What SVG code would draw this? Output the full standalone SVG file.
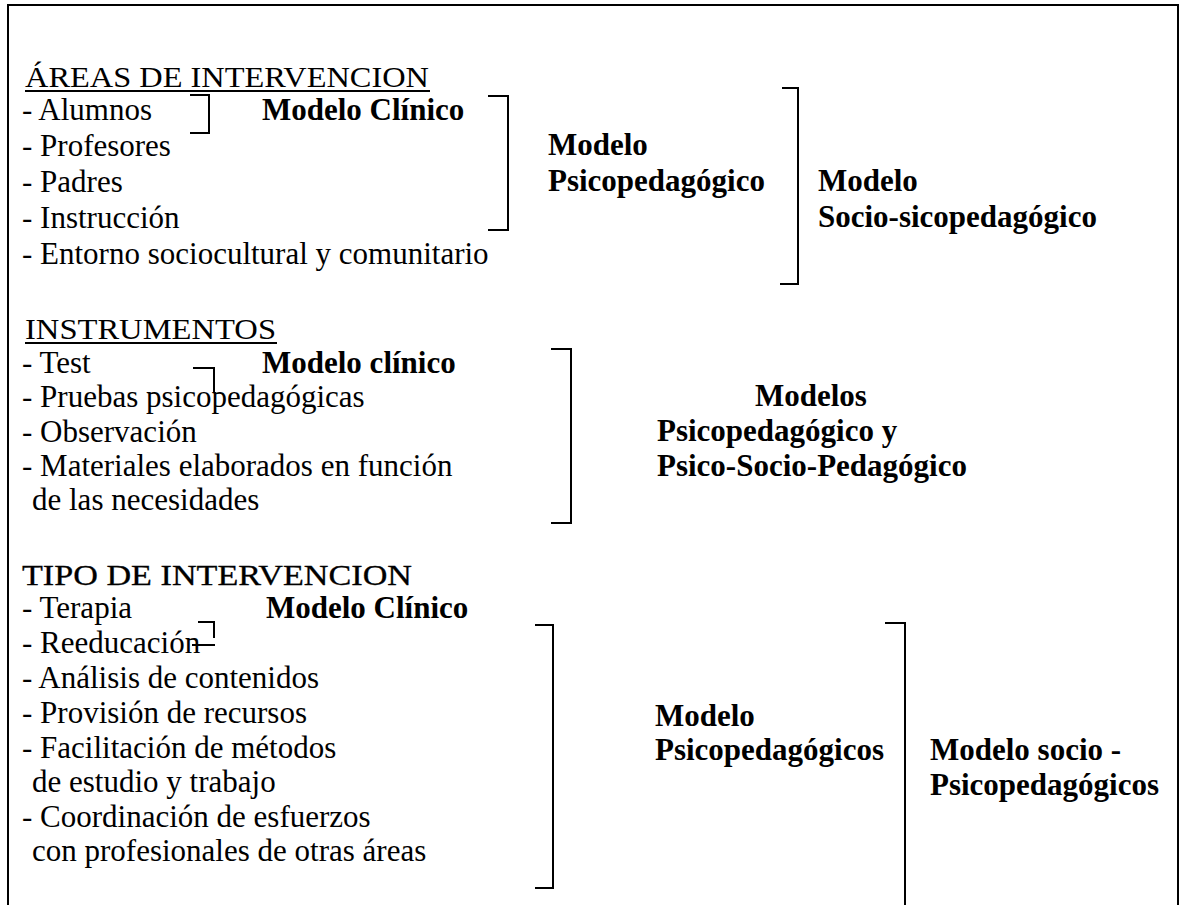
<svg xmlns="http://www.w3.org/2000/svg" width="1190" height="905" viewBox="0 0 1190 905">
<style>
text{font-family:"Liberation Serif","Times New Roman",serif;font-size:31px;fill:#000}
.b{font-weight:bold}
.h{font-size:30px}
.hb{stroke:#000;stroke-width:0.3}
.br{fill:none;stroke:#000;stroke-width:2}
.fr{fill:none;stroke:#000;stroke-width:2}
</style>
<rect width="1190" height="905" fill="#fff"/>
<g id="frame">
<path class="fr" d="M8,905 V5 H1178 V905"/>
</g>
<g id="areas-list">
<text class="h" x="25" y="87" textLength="404" lengthAdjust="spacingAndGlyphs">ÁREAS DE INTERVENCION</text>
<line x1="25" y1="91" x2="430" y2="91" stroke="#000" stroke-width="2"/>
<text x="22" y="120">- Alumnos</text>
<text x="22" y="156">- Profesores</text>
<text x="22" y="192">- Padres</text>
<text x="22" y="228">- Instrucción</text>
<text x="22" y="264">- Entorno sociocultural y comunitario</text>
</g>
<g id="areas-clinico"><text class="b" x="262" y="120">Modelo Clínico</text></g>
<g id="areas-psico"><text class="b" x="548" y="155">Modelo</text><text class="b" x="548" y="191">Psicopedagógico</text></g>
<g id="areas-socio"><text class="b" x="818" y="191">Modelo</text><text class="b" x="818" y="227">Socio-sicopedagógico</text></g>
<g id="instr-list">
<text class="h" x="25" y="339" textLength="251" lengthAdjust="spacingAndGlyphs">INSTRUMENTOS</text>
<line x1="25" y1="343" x2="277" y2="343" stroke="#000" stroke-width="2"/>
<text x="22" y="373">- Test</text>
<text x="22" y="407">- Pruebas psicopedagógicas</text>
<text x="22" y="442">- Observación</text>
<text x="22" y="476">- Materiales elaborados en función</text>
<text x="32" y="510">de las necesidades</text>
</g>
<g id="instr-clinico"><text class="b" x="262" y="373">Modelo clínico</text></g>
<g id="instr-modelos"><text class="b" x="755" y="406">Modelos</text><text class="b" x="657" y="441">Psicopedagógico y</text><text class="b" x="657" y="476">Psico-Socio-Pedagógico</text></g>
<g id="tipo-list">
<text class="h hb" x="22" y="585" textLength="390" lengthAdjust="spacingAndGlyphs">TIPO DE INTERVENCION</text>
<text x="22" y="618">- Terapia</text>
<text x="22" y="653">- Reeducación</text>
<text x="22" y="688">- Análisis de contenidos</text>
<text x="22" y="723">- Provisión de recursos</text>
<text x="22" y="758">- Facilitación de métodos</text>
<text x="32" y="792">de estudio y trabajo</text>
<text x="22" y="827">- Coordinación de esfuerzos</text>
<text x="32" y="861">con profesionales de otras áreas</text>
</g>
<g id="tipo-clinico"><text class="b" x="266" y="618">Modelo Clínico</text></g>
<g id="tipo-psico"><text class="b" x="655" y="726">Modelo</text><text class="b" x="655" y="760">Psicopedagógicos</text></g>
<g id="tipo-socio"><text class="b" x="930" y="760">Modelo socio -</text><text class="b" x="930" y="795">Psicopedagógicos</text></g>
<g id="connectors">
<path class="br" d="M190,95 H209 V133 H190"/>
<path class="br" d="M488,96 H508 V230 H488"/>
<path class="br" d="M782,88 H798 V284 H780"/>
<path class="br" d="M193,368 H214 V393"/>
<path class="br" d="M551,349 H571 V523 H551"/>
<path class="br" d="M198,622 H214 V638"/>
<path class="br" d="M192,645 H215"/>
<path class="br" d="M535,625 H553 V888 H535"/>
<path class="br" d="M885,623 H905 V905"/>
</g>
</svg>
